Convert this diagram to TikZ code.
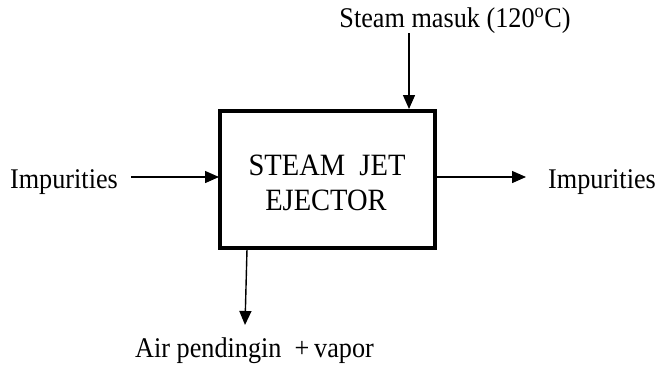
\documentclass[tikz,border=0pt]{standalone}
\usepackage{fontspec}
\setmainfont{Liberation Serif}[FakeStretch=0.92]
\usetikzlibrary{arrows.meta}
\begin{document}
\begin{tikzpicture}[x=1pt,y=-1pt,
  every node/.style={font=\fontsize{28.5}{35}\selectfont},
  unit/.style={draw,line width=3.6pt,minimum width=215pt,minimum height=137pt,inner sep=0pt},
  label/.style={inner sep=0pt,anchor=base},
  unittext/.style={label,font=\fontsize{31}{36}\selectfont},
  flow/.style={line width=1.4pt,-{Triangle[length=14pt,width=12pt]}}]
\useasboundingbox (0,0) rectangle (660,367);
% process unit
\node[unit] (ejector) at (327.5,179.5) {};
\node[unittext] (ejtop) at (327,175) {STEAM\ \ JET};
\node[unittext] (ejbot) at (326,210) {EJECTOR};
% stream labels
\node[label] (steam) at (455,27) {Steam masuk (120\textsuperscript{o}C)};
\node[label] (impin) at (64,188) {Impurities};
\node[label] (impout) at (602,188) {Impurities};
\node[label] (cond) at (254.5,357) {Air pendingin \ +\,vapor};
% free ends of the stream lines
\coordinate (steamtop) at (409,33);
\coordinate (steamin) at (409,109);
\coordinate (inA) at (131,177);
\coordinate (inB) at (219,177);
\coordinate (outA) at (436,177);
\coordinate (outB) at (526,177);
\coordinate (botA) at (247,249);
\coordinate (botB) at (245,325);
% streams
\draw[flow] (steamtop) -- (steamin);
\draw[flow] (inA) -- (inB);
\draw[flow] (outA) -- (outB);
\draw[flow] (botA) -- (botB);
\end{tikzpicture}
\end{document}
